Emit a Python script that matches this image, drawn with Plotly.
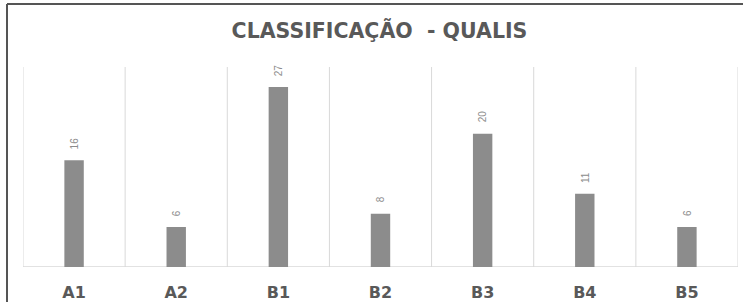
import plotly.graph_objects as go

categories = ["A1", "A2", "B1", "B2", "B3", "B4", "B5"]
values = [16, 6, 27, 8, 20, 11, 6]

W, H = 743, 302
ml, mr, mt, mb = 23, 5, 67, 35
pw, ph = W - ml - mr, H - mt - mb

fig = go.Figure()
fig.add_trace(go.Bar(
    x=categories, y=values, width=0.19,
    marker=dict(color="#8c8c8c", line=dict(width=0)),
    hoverinfo="skip",
))

for i, (c, v) in enumerate(zip(categories, values)):
    fig.add_annotation(x=c, y=v, text=str(v), textangle=-90, showarrow=False,
                       yanchor="bottom", yshift=9,
                       font=dict(family="Liberation Sans", size=10, color="#8c8c8c"))

shapes = []
for i in range(len(categories) + 1):
    shapes.append(dict(type="line", xref="x", yref="y", x0=i - 0.5, x1=i - 0.5,
                       y0=0, y1=30, line=dict(color="#d9d9d9", width=1), layer="below"))
shapes.append(dict(type="line", xref="x", yref="y", x0=-0.5, x1=len(categories) - 0.5,
                   y0=0, y1=0, line=dict(color="#d9d9d9", width=1.5), layer="below"))
# outer frame
px = lambda p: (p - ml) / pw
py = lambda p: (H - mb - p) / ph
shapes.append(dict(type="line", xref="paper", yref="paper", x0=px(7), x1=px(745),
                   y0=py(4), y1=py(4), line=dict(color="#555555", width=2)))
shapes.append(dict(type="line", xref="paper", yref="paper", x0=px(7), x1=px(7),
                   y0=py(4), y1=py(305), line=dict(color="#555555", width=2)))

fig.update_layout(
    width=W, height=H,
    margin=dict(l=ml, r=mr, t=mt, b=mb, autoexpand=False),
    paper_bgcolor="white", plot_bgcolor="white",
    showlegend=False,
    shapes=shapes,
    title=dict(text="CLASSIFICAÇÃO  - QUALIS", xref="container", x=379.5 / W, xanchor="center",
               y=1 - 31 / H, yanchor="middle",
               font=dict(family="DejaVu Sans", size=20.5, color="#595959", weight="bold")),
    xaxis=dict(type="category", showgrid=False, zeroline=False, showline=False,
               automargin=False,
               ticks="", ticklabelstandoff=14, range=[-0.5, 6.5],
               tickfont=dict(family="DejaVu Sans", size=16, color="#595959", weight="bold")),
    yaxis=dict(range=[0, 30], showgrid=False, zeroline=False, showline=False,
               automargin=False,
               showticklabels=False, ticks=""),
)

fig.write_html("out.html", config={"displayModeBar": False},
               post_script="document.body.style.margin='0';document.body.style.overflow='hidden';")
